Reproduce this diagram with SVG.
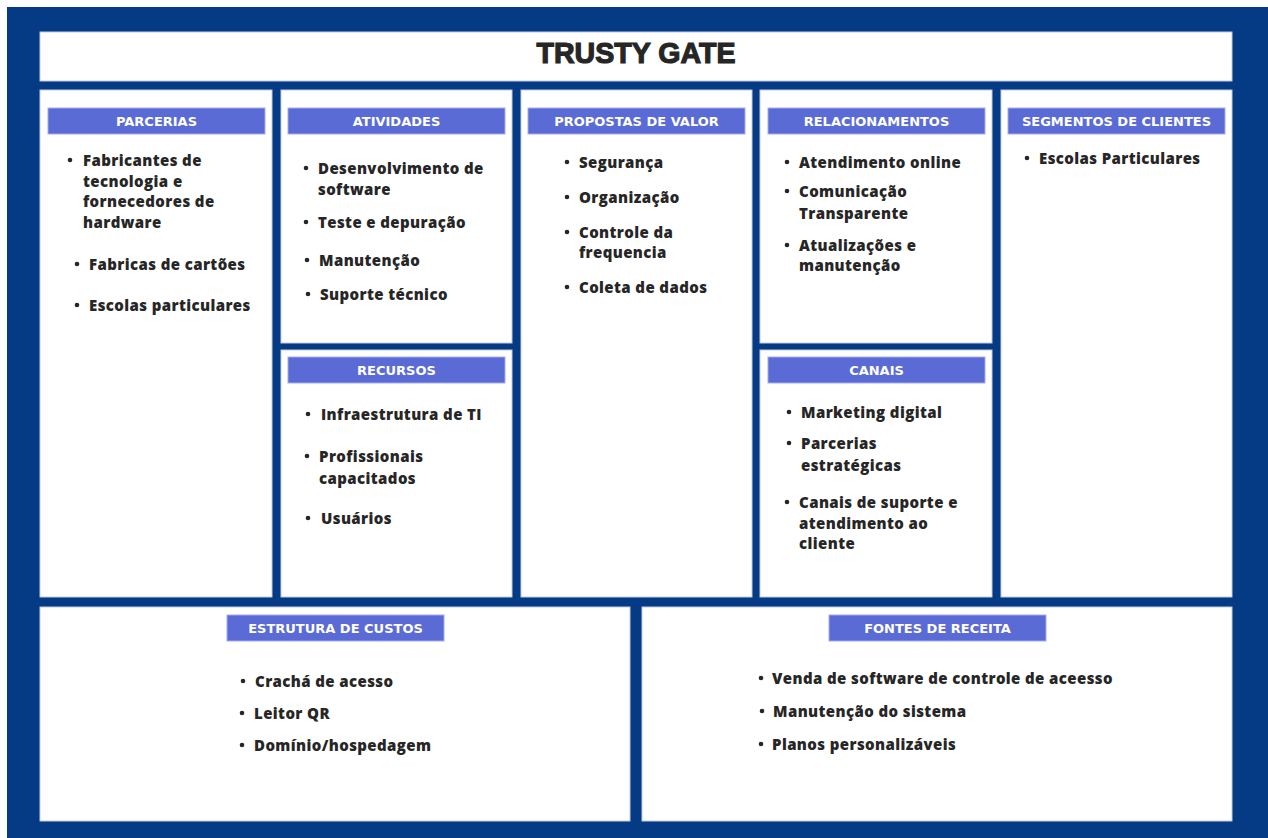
<svg xmlns="http://www.w3.org/2000/svg" width="1268" height="838" viewBox="0 0 1268 838">
  <style>
    .frame { fill: #053a84; }
    .box { fill: #ffffff; stroke: #c3cbe0; stroke-width: 1; }
    .hdr { fill: #5a6bd6; stroke: #a3acee; stroke-width: 1; }
    .hdr-t { font-family: "DejaVu Sans", Verdana, sans-serif; font-weight: bold; font-size: 13px; fill: #ffffff; text-anchor: middle; }
    .item { font-family: "Open Sans", "Noto Sans", sans-serif; font-weight: 800; font-size: 15px; letter-spacing: 0.4px; fill: #262626; }
    .dot { fill: #262626; }
    .title { font-family: "Liberation Sans", Arial, sans-serif; font-weight: 900; font-size: 30px; fill: #262626; text-anchor: middle; }
  </style>

  <rect class="frame" x="7" y="7" width="1261" height="831"/>

  <g id="title">
    <rect class="box" x="40" y="32" width="1192" height="49"/>
    <text class="title" x="636" y="63" textLength="199" lengthAdjust="spacingAndGlyphs" stroke="#262626" stroke-width="1.2">TRUSTY GATE</text>
  </g>

  <g id="parcerias">
    <rect class="box" x="40" y="90" width="232" height="507"/>
    <rect class="hdr" x="48" y="108" width="217" height="26"/>
    <text class="hdr-t" x="156.5" y="126">PARCERIAS</text>
    <circle class="dot" cx="70" cy="160" r="2.3"/>
    <text class="item" x="83" y="166">Fabricantes de</text>
    <text class="item" x="83" y="187">tecnologia e</text>
    <text class="item" x="83" y="207">fornecedores de</text>
    <text class="item" x="83" y="228">hardware</text>
    <circle class="dot" cx="77" cy="264" r="2.3"/>
    <text class="item" x="89" y="270">Fabricas de cartões</text>
    <circle class="dot" cx="77" cy="305" r="2.3"/>
    <text class="item" x="89" y="311">Escolas particulares</text>
  </g>

  <g id="atividades">
    <rect class="box" x="281" y="90" width="231" height="253"/>
    <rect class="hdr" x="288" y="108" width="217" height="26"/>
    <text class="hdr-t" x="396.5" y="126">ATIVIDADES</text>
    <circle class="dot" cx="306" cy="168" r="2.3"/>
    <text class="item" x="318" y="174">Desenvolvimento de</text>
    <text class="item" x="318" y="195">software</text>
    <circle class="dot" cx="306" cy="222" r="2.3"/>
    <text class="item" x="318" y="228">Teste e depuração</text>
    <circle class="dot" cx="307" cy="260" r="2.3"/>
    <text class="item" x="319" y="266">Manutenção</text>
    <circle class="dot" cx="308" cy="294" r="2.3"/>
    <text class="item" x="320" y="300">Suporte técnico</text>
  </g>

  <g id="recursos">
    <rect class="box" x="281" y="350" width="231" height="247"/>
    <rect class="hdr" x="288" y="357" width="217" height="26"/>
    <text class="hdr-t" x="396.5" y="375">RECURSOS</text>
    <circle class="dot" cx="308" cy="414" r="2.3"/>
    <text class="item" x="321" y="420">Infraestrutura de TI</text>
    <circle class="dot" cx="307" cy="456" r="2.3"/>
    <text class="item" x="319" y="462">Profissionais</text>
    <text class="item" x="319" y="484">capacitados</text>
    <circle class="dot" cx="308" cy="518" r="2.3"/>
    <text class="item" x="321" y="524">Usuários</text>
  </g>

  <g id="propostas">
    <rect class="box" x="521" y="90" width="231" height="507"/>
    <rect class="hdr" x="528" y="108" width="217" height="26"/>
    <text class="hdr-t" x="636.5" y="126">PROPOSTAS DE VALOR</text>
    <circle class="dot" cx="567" cy="162" r="2.3"/>
    <text class="item" x="579" y="168">Segurança</text>
    <circle class="dot" cx="567" cy="197" r="2.3"/>
    <text class="item" x="579" y="203">Organização</text>
    <circle class="dot" cx="567" cy="232" r="2.3"/>
    <text class="item" x="579" y="238">Controle da</text>
    <text class="item" x="579" y="258">frequencia</text>
    <circle class="dot" cx="567" cy="287" r="2.3"/>
    <text class="item" x="579" y="293">Coleta de dados</text>
  </g>

  <g id="relacionamentos">
    <rect class="box" x="760" y="90" width="232" height="253"/>
    <rect class="hdr" x="768" y="108" width="217" height="26"/>
    <text class="hdr-t" x="876.5" y="126">RELACIONAMENTOS</text>
    <circle class="dot" cx="787" cy="162" r="2.3"/>
    <text class="item" x="799" y="168">Atendimento online</text>
    <circle class="dot" cx="787" cy="191" r="2.3"/>
    <text class="item" x="799" y="197">Comunicação</text>
    <text class="item" x="799" y="219">Transparente</text>
    <circle class="dot" cx="787" cy="245" r="2.3"/>
    <text class="item" x="799" y="251">Atualizações e</text>
    <text class="item" x="799" y="271">manutenção</text>
  </g>

  <g id="canais">
    <rect class="box" x="760" y="350" width="232" height="247"/>
    <rect class="hdr" x="768" y="357" width="217" height="26"/>
    <text class="hdr-t" x="876.5" y="375">CANAIS</text>
    <circle class="dot" cx="789" cy="412" r="2.3"/>
    <text class="item" x="801" y="418">Marketing digital</text>
    <circle class="dot" cx="789" cy="443" r="2.3"/>
    <text class="item" x="801" y="449">Parcerias</text>
    <text class="item" x="801" y="471">estratégicas</text>
    <circle class="dot" cx="787" cy="502" r="2.3"/>
    <text class="item" x="799" y="508">Canais de suporte e</text>
    <text class="item" x="799" y="529">atendimento ao</text>
    <text class="item" x="799" y="549">cliente</text>
  </g>

  <g id="segmentos">
    <rect class="box" x="1001" y="90" width="231" height="507"/>
    <rect class="hdr" x="1008" y="108" width="217" height="26"/>
    <text class="hdr-t" x="1116.5" y="126">SEGMENTOS DE CLIENTES</text>
    <circle class="dot" cx="1027" cy="158" r="2.3"/>
    <text class="item" x="1039" y="164">Escolas Particulares</text>
  </g>

  <g id="custos">
    <rect class="box" x="40" y="607" width="590" height="214"/>
    <rect class="hdr" x="227" y="615" width="217" height="26"/>
    <text class="hdr-t" x="335.5" y="633">ESTRUTURA DE CUSTOS</text>
    <circle class="dot" cx="243" cy="681" r="2.3"/>
    <text class="item" x="255" y="687">Crachá de acesso</text>
    <circle class="dot" cx="242" cy="713" r="2.3"/>
    <text class="item" x="254" y="719">Leitor QR</text>
    <circle class="dot" cx="242" cy="745" r="2.3"/>
    <text class="item" x="254" y="751">Domínio/hospedagem</text>
  </g>

  <g id="receita">
    <rect class="box" x="642" y="607" width="590" height="214"/>
    <rect class="hdr" x="829" y="615" width="217" height="26"/>
    <text class="hdr-t" x="937.5" y="633">FONTES DE RECEITA</text>
    <circle class="dot" cx="761" cy="678" r="2.3"/>
    <text class="item" x="772" y="684">Venda de software de controle de aceesso</text>
    <circle class="dot" cx="762" cy="711" r="2.3"/>
    <text class="item" x="773" y="717">Manutenção do sistema</text>
    <circle class="dot" cx="761" cy="744" r="2.3"/>
    <text class="item" x="772" y="750">Planos personalizáveis</text>
  </g>

  <!-- canvas has no connectors; kept as an empty group -->
  <g id="connectors"/>
</svg>
